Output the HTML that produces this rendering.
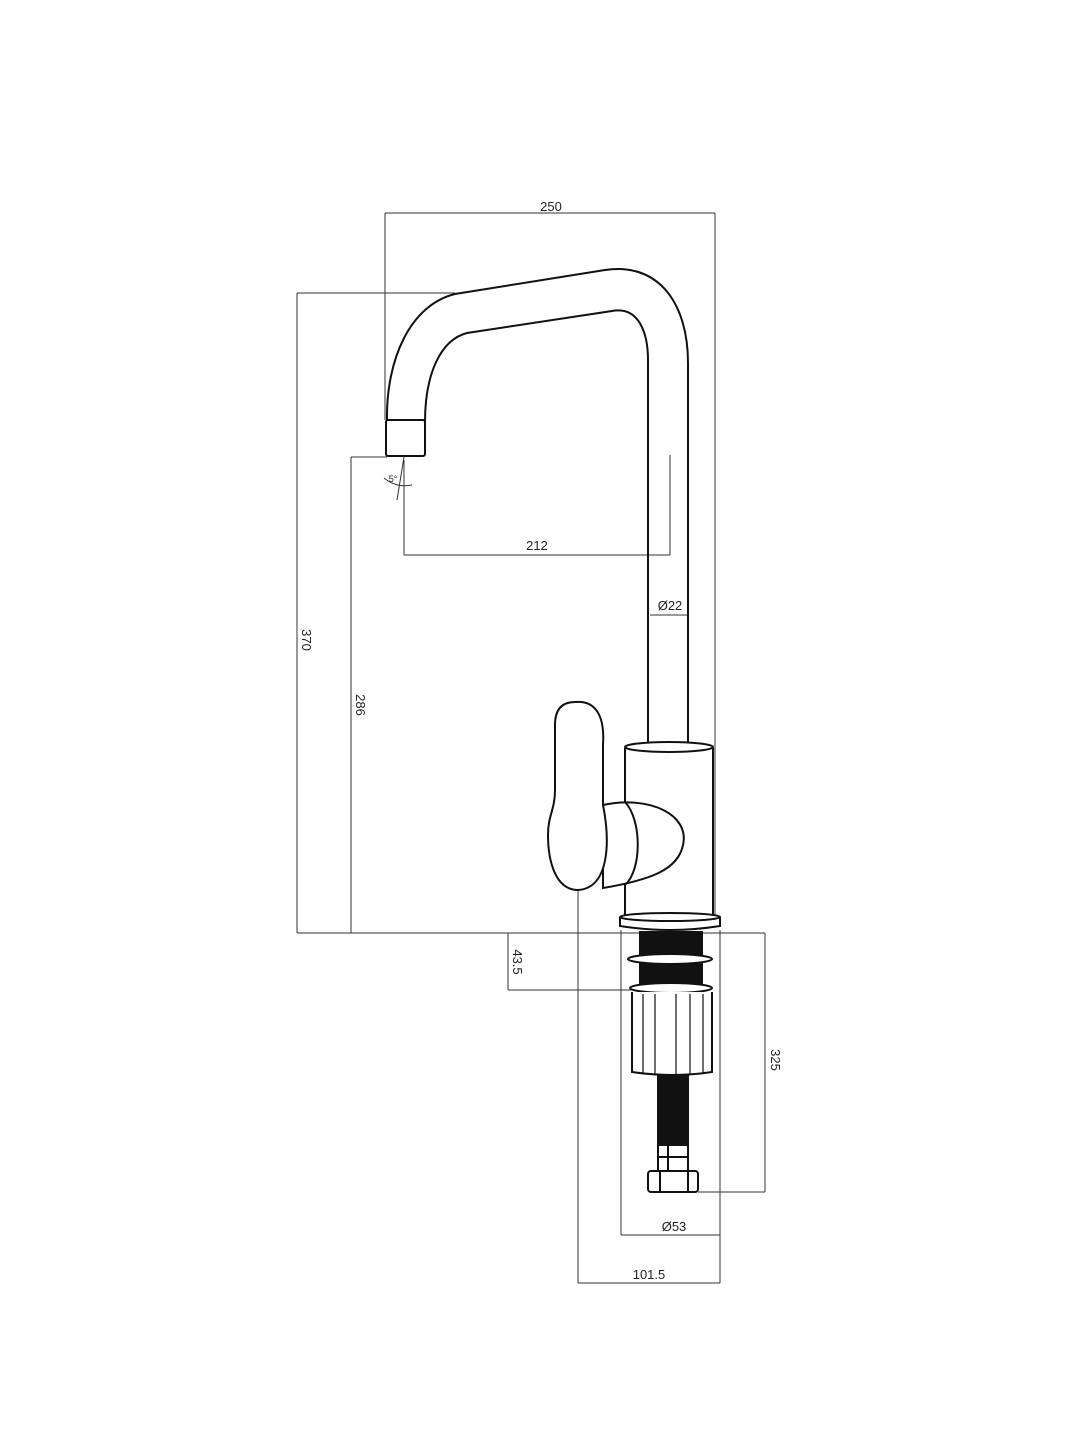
<!DOCTYPE html>
<html><head><meta charset="utf-8"><style>
html,body{margin:0;padding:0;background:#fff;}
svg{display:block}
text{font-family:"Liberation Sans",sans-serif;font-size:13px;fill:#222}
</style></head><body>
<svg width="1080" height="1440" viewBox="0 0 1080 1440" xmlns="http://www.w3.org/2000/svg">
<g fill="none" stroke="#333" stroke-width="1">
 <!-- 250 -->
 <line x1="385" y1="213" x2="715" y2="213"/>
 <line x1="385" y1="213" x2="385" y2="420"/>
 <line x1="715" y1="213" x2="715" y2="920"/>
 <!-- 370 -->
 <line x1="297" y1="293" x2="455" y2="293"/>
 <line x1="297" y1="293" x2="297" y2="933"/>
 <line x1="297" y1="933" x2="765" y2="933"/>
 <!-- 286 -->
 <line x1="351" y1="457" x2="387" y2="457"/>
 <line x1="351" y1="457" x2="351" y2="933"/>
 <!-- 212 -->
 <line x1="404" y1="460" x2="404" y2="555"/>
 <line x1="404" y1="555" x2="670" y2="555"/>
 <line x1="670" y1="455" x2="670" y2="555"/>
 <!-- 5 deg -->
 <line x1="404" y1="457" x2="397" y2="500"/>
 <path d="M384 478 Q396 488 412 485"/>
 <!-- Ø22 -->
 <line x1="650" y1="615" x2="688" y2="615"/>
 <!-- 43.5 -->
 <line x1="508" y1="933" x2="508" y2="990"/>
 <line x1="508" y1="990" x2="632" y2="990"/>
 <!-- 325 -->
 <line x1="765" y1="933" x2="765" y2="1192"/>
 <line x1="698" y1="1192" x2="765" y2="1192"/>
 <!-- 101.5 / Ø53 -->
 <line x1="578" y1="890" x2="578" y2="1283"/>
 <line x1="720" y1="930" x2="720" y2="1283"/>
 <line x1="578" y1="1283" x2="720" y2="1283"/>
 <line x1="621" y1="930" x2="621" y2="1235"/>
 <line x1="621" y1="1235" x2="720" y2="1235"/>
</g>
<g fill="none" stroke="#111" stroke-width="2">
 <!-- spout -->
 <path d="M387 420 C386 360 410 305 455 294 L605 270 C660 262 688 305 688 363 L688 745"/>
 <path d="M425 422 C425 375 440 340 467 333 L612 311 C640 306 648 335 648 360 L648 745"/>
 <rect x="386" y="420" width="39" height="36" rx="2" fill="#fff"/>
 <!-- body -->
 <path d="M625 748 L625 920 M713 748 L713 920"/>
 <ellipse cx="669" cy="747" rx="44" ry="5" fill="#fff"/>
 <path d="M620 917 L620 926 Q670 934 720 926 L720 917" fill="#fff"/>
 <ellipse cx="670" cy="917" rx="50" ry="4" fill="#fff"/>
 <!-- hub -->
 <path d="M603 805 C650 795 690 815 683 845 C678 870 650 880 603 888 Z" fill="#fff"/>
 <path d="M625 802 C642 820 642 870 625 885"/>
 <!-- lever -->
 <path d="M575 702 C595 700 605 715 603 745 L603 805 C610 840 610 888 578 890 C555 890 548 860 548 835 C548 815 555 810 555 790 L555 725 C555 708 563 702 575 702 Z" fill="#fff"/>
 <!-- threaded -->
 <rect x="640" y="932" width="62" height="53" fill="#111"/>
 <ellipse cx="670" cy="959" rx="42" ry="5" fill="#fff"/>
 <ellipse cx="671" cy="988" rx="41" ry="5" fill="#fff"/>
 <!-- nut -->
 <path d="M632 992 L632 1072 Q672 1078 712 1072 L712 992" fill="#fff"/>
 <path d="M643 994 V1074 M655 994 V1075 M676 994 V1076 M690 994 V1075 M703 994 V1074" stroke-width="1.2"/>
 <!-- hose -->
 <rect x="658" y="1076" width="30" height="70" fill="#111"/>
 <rect x="658" y="1145" width="30" height="26" fill="#fff"/>
 <line x1="668" y1="1145" x2="668" y2="1171"/>
 <line x1="658" y1="1157" x2="688" y2="1157"/>
 <rect x="648" y="1171" width="50" height="21" rx="3" fill="#fff"/>
 <line x1="660" y1="1171" x2="660" y2="1192"/>
 <line x1="688" y1="1171" x2="688" y2="1192"/>
</g>
<text x="551" y="211" text-anchor="middle">250</text>
<text x="537" y="550" text-anchor="middle">212</text>
<text x="670" y="610" text-anchor="middle">Ø22</text>
<text x="393" y="482" text-anchor="middle" style="font-size:9px">5°</text>
<text x="674" y="1231" text-anchor="middle">Ø53</text>
<text x="649" y="1279" text-anchor="middle">101.5</text>
<text transform="translate(302,640) rotate(90)" text-anchor="middle">370</text>
<text transform="translate(356,705) rotate(90)" text-anchor="middle">286</text>
<text transform="translate(513,962) rotate(90)" text-anchor="middle">43.5</text>
<text transform="translate(771,1060) rotate(90)" text-anchor="middle">325</text>
</svg>
</body></html>
